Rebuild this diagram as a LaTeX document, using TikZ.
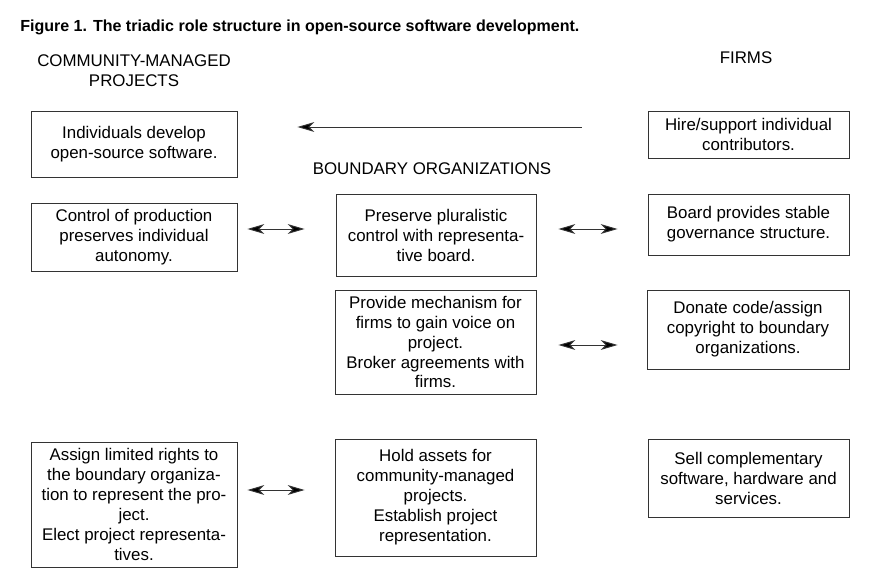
\documentclass[tikz,border=0pt]{standalone}
\usepackage{fontspec}
\setmainfont{Liberation Sans}
\usetikzlibrary{arrows.meta,calc}

\begin{document}
\begin{tikzpicture}[x=0.025cm,y=-0.025cm,
	box/.style={draw=black!80,line width=0.6pt,align=center,inner sep=0pt,
		font=\fontsize{12}{14.2}\selectfont},
	head/.style={align=center,font=\fontsize{12}{14.2}\selectfont},
	oneway/.style={draw=black!80,line width=0.7pt,-{Stealth[length=12pt,width=7pt,inset=3.5pt,fill=black]}},
	twoway/.style={draw=black!80,line width=0.7pt,{Stealth[length=12pt,width=7pt,inset=3.5pt,fill=black]}-{Stealth[length=12pt,width=7pt,inset=3.5pt,fill=black]}}]
			\useasboundingbox (0,0) rectangle (879,577);
			
			\node[anchor=west,inner sep=0pt,font=\fontsize{11.4}{13}\selectfont\bfseries] (title) at (20,27)
				{Figure 1. The triadic role structure in open-source software development.};
			
			% column heads
			\node[head] (hcomm) at (134,71) {COMMUNITY-MANAGED\\PROJECTS};
			\node[head] (hbound) at (432,169) {BOUNDARY ORGANIZATIONS};
			\node[head] (hfirm) at (746,58) {FIRMS};
			
			% community-managed projects
			\node[box,minimum width=5.15cm,minimum height=1.65cm] (indiv) at (134,144)
				{Individuals develop\\open-source software.};
			\node[box,minimum width=5.15cm,minimum height=1.7cm] (control) at (134,237)
				{Control of production\\preserves individual\\autonomy.};
			\node[box,minimum width=5.15cm,minimum height=3.125cm] (assign) at (134,504.5)
				{Assign limited rights to\\the boundary organiza-\\tion to represent the pro-\\ject.\\Elect project representa-\\tives.};
			
			% boundary organizations
			\node[box,minimum width=5cm,minimum height=2.05cm] (preserve) at (436,235)
				{Preserve pluralistic\\control with representa-\\tive board.};
			\node[box,minimum width=5.025cm,minimum height=2.6cm] (provide) at (435.5,342)
				{Provide mechanism for\\firms to gain voice on\\project.\\Broker agreements with\\firms.};
			\node[box,minimum width=5.025cm,minimum height=2.925cm] (hold) at (435.5,497.5)
				{Hold assets for\\community-managed\\projects.\\Establish project\\representation.};
			
			% firms
			\node[box,minimum width=5.025cm,minimum height=1.175cm] (hire) at (748.5,134.5)
				{Hire/support individual\\contributors.};
			\node[box,minimum width=5.025cm,minimum height=1.525cm] (board) at (748.5,224.5)
				{Board provides stable\\governance structure.};
			\node[box,minimum width=5.05cm,minimum height=1.975cm] (donate) at (748,329.5)
				{Donate code/assign\\copyright to boundary\\organizations.};
			\node[box,minimum width=5.025cm,minimum height=1.95cm] (sell) at (748.5,478)
				{Sell complementary\\software, hardware and\\services.};
			
			% connectors
			\draw[oneway,shorten <=1.65cm,shorten >=1.5cm] (hire.west |- 0,127) -- (indiv.east |- 0,127);
			\draw[twoway,shorten <=0.25cm,shorten >=0.775cm] (control.east |- 0,229) -- (preserve.west |- 0,229);
			\draw[twoway,shorten <=0.55cm,shorten >=0.75cm] (preserve.east |- 0,229) -- (board.west |- 0,229);
			\draw[twoway,shorten <=0.55cm,shorten >=0.725cm] (provide.east |- 0,345) -- (donate.west |- 0,345);
			\draw[twoway,shorten <=0.25cm,shorten >=0.75cm] (assign.east |- 0,490) -- (hold.west |- 0,490);
			\end{tikzpicture}
\end{document}
